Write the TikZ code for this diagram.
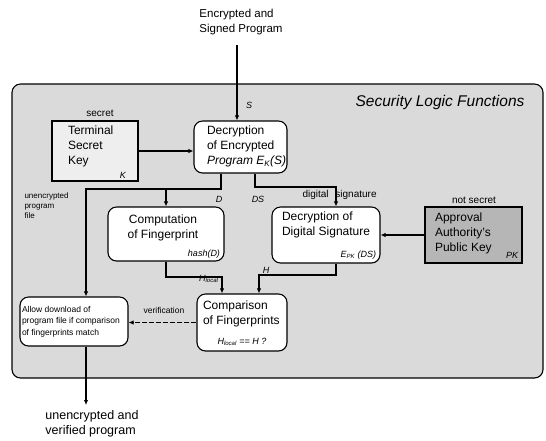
\documentclass[tikz,border=0pt]{standalone}
\usepackage{fontspec}
\setmainfont{Liberation Sans}
\usetikzlibrary{positioning,arrows.meta}
\definecolor{areaColor}{RGB}{218,218,218}
\definecolor{secretColor}{RGB}{238,238,238}
\definecolor{publicColor}{RGB}{182,182,182}
\tikzstyle{diagram} = [x=1pt, y=-1pt, line width=1.1pt, >={Latex[length=5pt,width=4.5pt]}]
\tikzstyle{areaStyle} = [draw, fill=areaColor, rounded corners=.3cm]
\tikzstyle{funcBox} = [draw, fill=white, rounded corners=.3cm, inner sep=0pt]
\tikzstyle{keyBox} = [draw, inner sep=0pt]
\tikzstyle{boxText} = [font=\fontsize{12}{15}\selectfont, align=left, inner sep=0pt]
\tikzstyle{smallText} = [font=\fontsize{8.5}{11.5}\selectfont, align=left, inner sep=0pt]
\tikzstyle{tinyText} = [font=\fontsize{8}{10}\selectfont, align=left, inner sep=0pt]
\tikzstyle{noteText} = [font=\fontsize{10}{12}\selectfont, inner sep=0pt]
\tikzstyle{flowLabel} = [font=\fontsize{9}{10}\selectfont\itshape, inner sep=0pt]
\tikzstyle{flow} = [->]
\newcommand{\logicBox}[6]{\node [#6, minimum width=#4pt, minimum height=#5pt] (#1) at (#2,#3) {};}

\begin{document}
\begin{tikzpicture}[diagram]
  \useasboundingbox (0,0) rectangle (546,440);
  \draw [areaStyle] (12,84) rectangle (543,378);
  \node [font=\fontsize{15.5}{17}\selectfont\itshape] (title) at (440,102) {Security Logic Functions};

  % boxes
  \logicBox{termKey}{95}{151}{86}{60}{keyBox, fill=secretColor}
  \logicBox{decProg}{240.5}{147}{93}{52}{funcBox}
  \logicBox{computeFp}{166}{234}{116}{54}{funcBox}
  \logicBox{decSig}{326}{235}{108}{56}{funcBox}
  \logicBox{pubKey}{473.5}{235}{97}{56}{keyBox, fill=publicColor}
  \logicBox{compareFp}{242}{322.5}{90}{57}{funcBox}
  \logicBox{allowDl}{74}{321.5}{108}{49}{funcBox}

  % box texts
  \node [boxText, anchor=north west] at ([shift={(16,5)}]termKey.north west) {Terminal\\Secret\\Key};
  \node [flowLabel, anchor=south east] at ([shift={(-12,-3)}]termKey.south east) {K};
  \node [boxText, anchor=north west] at ([shift={(13,5)}]decProg.north west) {Decryption\\of Encrypted\\\textit{Program E\textsubscript{K}(S)}};
  \node [boxText, align=center] at ([shift={(-3,-6)}]computeFp.center) {Computation\\of Fingerprint};
  \node [flowLabel, anchor=south east] at ([shift={(-4,-3)}]computeFp.south east) {hash(D)};
  \node [boxText, anchor=north west] at ([shift={(10,5)}]decSig.north west) {Decryption of\\Digital Signature};
  \node [flowLabel, anchor=south east] at ([shift={(-4,-4)}]decSig.south east) {E\textsubscript{PK} (DS)};
  \node [boxText, anchor=north west] at ([shift={(10,6)}]pubKey.north west) {Approval\\Authority's\\Public Key};
  \node [flowLabel, anchor=south east] at ([shift={(-4,-5)}]pubKey.south east) {PK};
  \node [boxText, anchor=north west] at ([shift={(6,7)}]compareFp.north west) {Comparison\\of Fingerprints};
  \node [flowLabel, anchor=south] at ([shift={(0,-5)}]compareFp.south) {H\textsubscript{local} == H ?};
  \node [smallText, anchor=west] at ([xshift=2]allowDl.west) {Allow download of\\program file if comparison\\of fingerprints match};

  % outside texts
  \node [font=\fontsize{11.5}{15}\selectfont, align=left] (inText) at (241,22) {Encrypted and\\Signed Program};
  \node [font=\fontsize{12.5}{15}\selectfont, align=left] (outText) at (92,424) {unencrypted and\\verified program};
  \coordinate (inTop) at (237,45);
  \coordinate (outEnd) at (86,405);

  % connectors
  \draw [flow] (inTop) -- (inTop |- decProg.north);
  \draw [flow] (termKey.east) -- (decProg.west |- termKey.east);
  \coordinate (dSplit) at (221,189);
  \coordinate (plainTurn) at (86,189);
  \draw [flow] (dSplit |- decProg.south) -- (dSplit) -- (plainTurn) -- (plainTurn |- allowDl.north);
  \draw [flow] (computeFp.north |- dSplit) -- (computeFp.north);
  \coordinate (sSplit) at (255,187);
  \coordinate (sigTurn) at (336,187);
  \draw [flow] (sSplit |- decProg.south) -- (sSplit) -- (sigTurn) -- (sigTurn |- decSig.north);
  \draw [flow] (pubKey.west) -- (decSig.east |- pubKey.west);
  \coordinate (hLocTurn) at (222,277);
  \draw [flow] (computeFp.south) -- (computeFp.south |- hLocTurn) -- (hLocTurn) -- (hLocTurn |- compareFp.north);
  \coordinate (hTurn) at (259,275);
  \draw [flow] (sigTurn |- decSig.south) -- (sigTurn |- hTurn) -- (hTurn) -- (hTurn |- compareFp.north);
  \draw [flow, dash pattern=on 5pt off 2pt] (compareFp.west) -- (allowDl.east |- compareFp.west);
  \draw [flow] (plainTurn |- allowDl.south) -- (outEnd);

  % connector labels
  \node [flowLabel] (sLab) at (249,105) {S};
  \node [flowLabel] (dLab) at (219,199) {D};
  \node [flowLabel] (dsLab) at (258,199) {DS};
  \node [noteText, anchor=west] (sigLab) at (302,195) {digital\hspace{4pt} signature};
  \node [noteText] (secLab) at (100,113) {secret};
  \node [noteText] (pubLab) at (474,200) {not secret};
  \node [tinyText, anchor=north west] (plainLab) at (24,192) {unencrypted\\program\\file};
  \node [flowLabel, anchor=south east] (hLocLab) at (219,283) {H\textsubscript{local}};
  \node [flowLabel] (hLab) at (266,270) {H};
  \node [font=\fontsize{8.5}{10}\selectfont, inner sep=0pt] (verLab) at (164,310) {verification};
\end{tikzpicture}
\end{document}
